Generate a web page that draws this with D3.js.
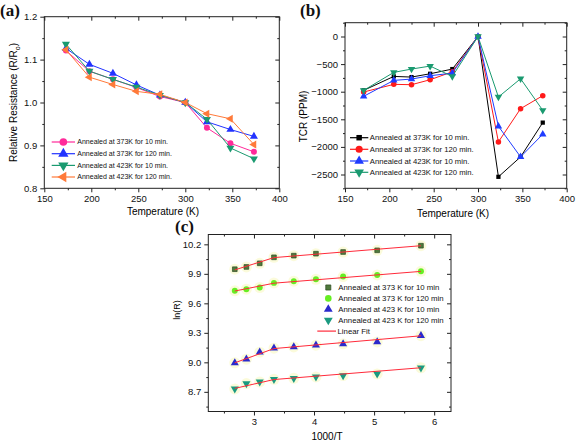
<!DOCTYPE html>
<html><head><meta charset="utf-8">
<script src="https://cdn.jsdelivr.net/npm/d3@7"></script>
<style>
body{margin:0;background:#fff;}
svg{display:block;font-family:"Liberation Sans",Arial,sans-serif;}
</style></head>
<body><svg id="c" width="576" height="442"></svg>
<script>
// ---------- Panel (a) data ----------
const tempA = [173, 198, 223, 248, 273, 300, 323, 348, 373];
const relR_373K_10 = [1.121, 1.073, 1.054, 1.035, 1.014, 1.000, 0.941, 0.905, 0.885];
const relR_373K_120 = [1.126, 1.089, 1.068, 1.041, 1.017, 1.000, 0.955, 0.937, 0.921];
const relR_423K_10 = [1.136, 1.073, 1.054, 1.036, 1.017, 1.000, 0.961, 0.894, 0.869];
const relR_423K_120 = [1.123, 1.059, 1.042, 1.026, 1.019, 1.000, 0.974, 0.962, 0.902];
const ticksA_x = [150, 200, 250, 300, 350, 400];
const ticksA_y = [0.8, 0.9, 1.0, 1.1, 1.2];

// ---------- Panel (b) data ----------
const tempB = [171, 205, 225, 246, 271, 300, 323, 348, 373];
const tcr_373K_10 = [-976, -723, -735, -675, -590, 0, -2542, -2181, -1560];
const tcr_373K_120 = [-1006, -867, -873, -783, -640, 0, -1910, -1307, -1072];
const tcr_423K_10 = [-1084, -795, -771, -711, -663, 0, -1626, -2181, -1771];
const tcr_423K_120 = [-976, -650, -590, -536, -723, 0, -1096, -765, -1337];
const ticksB_x = [150, 200, 250, 300, 350, 400];
const ticksB_y = [0, -500, -1000, -1500, -2000, -2500];

// ---------- Panel (c) data ----------
const invT = [2.681, 2.874, 3.096, 3.333, 3.663, 4.032, 4.484, 5.051, 5.780];
const lnR_373K_10 = [9.947, 9.970, 10.007, 10.068, 10.085, 10.105, 10.122, 10.139, 10.186];
const lnR_373K_120 = [9.727, 9.744, 9.761, 9.808, 9.825, 9.845, 9.872, 9.889, 9.926];
const lnR_423K_10 = [8.995, 9.032, 9.103, 9.144, 9.157, 9.174, 9.188, 9.208, 9.271];
const lnR_423K_120 = [8.730, 8.784, 8.801, 8.828, 8.838, 8.852, 8.866, 8.882, 8.945];
const fitX = [2.681, 3.333, 5.780];
const fit_373K_10 = [9.940, 10.065, 10.186];
const fit_373K_120 = [9.725, 9.805, 9.925];
const fit_423K_10 = [8.995, 9.140, 9.270];
const fit_423K_120 = [8.735, 8.825, 8.945];
const ticksC_x = [3, 4, 5, 6];
const ticksC_y = [8.7, 9.0, 9.3, 9.6, 9.9, 10.2];

const labelsA = ["Annealed at 373K for 10 min.", "Annealed at 373K for 120 min.", "Annealed at 423K for 10 min.", "Annealed at 423K for 120 min."];
const labelsC = ["Annealed at 373 K for 10 min", "Annealed at 373 K for 120 min", "Annealed at 423 K for 10 min", "Annealed at 423 K for 120 min", "Linear Fit"];

const svg = d3.select("#c");
const AX = "#222";

function rangeStep(a, b, s) { const out = []; for (let v = a; v <= b + 1e-9; v += s) out.push(+v.toFixed(4)); return out; }

function frame(x, y, o) {
  const g = svg.append("g");
  const [x0, x1] = x.range(), [y0, y1] = y.range();
  const minorX = rangeStep(o.xMinor[0], o.xMinor[1], o.xMinor[2]);
  const minorY = rangeStep(o.yMinor[0], o.yMinor[1], o.yMinor[2]);
  const fs = o.tickFont;
  g.append("g").attr("transform", `translate(0,${y0})`)
    .call(d3.axisBottom(x).tickValues(o.xTicks).tickSize(4).tickPadding(3).tickFormat(o.xFmt));
  g.append("g").attr("transform", `translate(0,${y0})`).call(d3.axisBottom(x).tickValues(minorX).tickSize(2).tickFormat(""));
  g.append("g").attr("transform", `translate(0,${y1})`).call(d3.axisBottom(x).tickValues(o.xTicks).tickSize(4).tickFormat(""));
  g.append("g").attr("transform", `translate(0,${y1})`).call(d3.axisBottom(x).tickValues(minorX).tickSize(2).tickFormat(""));
  g.append("g").attr("transform", `translate(${x0},0)`)
    .call(d3.axisLeft(y).tickValues(o.yTicks).tickSize(4).tickPadding(3).tickFormat(o.yFmt));
  g.append("g").attr("transform", `translate(${x0},0)`).call(d3.axisLeft(y).tickValues(minorY).tickSize(2).tickFormat(""));
  g.append("g").attr("transform", `translate(${x1},0)`).call(d3.axisLeft(y).tickValues(o.yTicks).tickSize(4).tickFormat(""));
  g.append("g").attr("transform", `translate(${x1},0)`).call(d3.axisLeft(y).tickValues(minorY).tickSize(2).tickFormat(""));
  g.selectAll(".domain").remove();
  g.selectAll(".tick line").attr("stroke", AX);
  g.selectAll(".tick text").attr("font-size", fs).attr("fill", "#111").attr("font-family", "Liberation Sans, Arial, sans-serif");
  g.append("rect").attr("x", x0).attr("y", y1).attr("width", x1 - x0).attr("height", y0 - y1)
    .attr("fill", "none").attr("stroke", AX).attr("stroke-width", 1);
}

function sym(type, size) {
  const map = { circle: d3.symbolCircle, square: d3.symbolSquare, up: d3.symbolTriangle, down: d3.symbolTriangle, left: d3.symbolTriangle };
  return d3.symbol().type(map[type]).size(size)();
}
function rot(type) { return type === "down" ? 180 : type === "left" ? -90 : 0; }

function series(g, x, y, xs, ys, color, type, size, opts = {}) {
  const pts = xs.map((v, i) => [v, ys[i]]);
  if (!opts.noLine) {
    g.append("path").datum(pts).attr("fill", "none").attr("stroke", color).attr("stroke-width", 1)
      .attr("d", d3.line().x(d => x(d[0])).y(d => y(d[1])));
  }
  if (opts.halo) {
    g.selectAll(null).data(pts).join("circle").attr("cx", d => x(d[0])).attr("cy", d => y(d[1]))
      .attr("r", 5.5).attr("fill", "#fafad2").attr("opacity", 0.8);
  }
  if (size > 0) g.selectAll(null).data(pts).join("path")
    .attr("d", sym(type, size))
    .attr("transform", d => `translate(${x(d[0])},${y(d[1])}) rotate(${rot(type)})`)
    .attr("fill", opts.fill || color).attr("stroke", opts.stroke || "none").attr("stroke-width", 0.7);
}

function legendRow(lx0, lx1, ly, tx, color, type, size, label, fs, opts = {}) {
  if (lx1 > lx0) svg.append("line").attr("x1", lx0).attr("x2", lx1).attr("y1", ly).attr("y2", ly).attr("stroke", color).attr("stroke-width", 1.2);
  if (type) svg.append("path").attr("d", sym(type, size))
    .attr("transform", `translate(${opts.mx || (lx0 + lx1) / 2},${ly}) rotate(${rot(type)})`)
    .attr("fill", opts.fill || color).attr("stroke", opts.stroke || "none").attr("stroke-width", 0.7);
  svg.append("text").attr("x", tx).attr("y", ly).attr("dy", "0.35em").attr("font-size", fs).attr("fill", "#111").text(label);
}

function panelLabel(x, y, t) {
  svg.append("text").attr("x", x).attr("y", y).attr("font-family", "Liberation Serif, Times New Roman, serif")
    .attr("font-weight", "bold").attr("font-size", 17).attr("fill", "#111").text(t);
}

// ================= Panel (a) =================
{
  const x = d3.scaleLinear().domain([150, 400]).range([44.3, 279.3]);
  const y = d3.scaleLinear().domain([0.8, 1.2]).range([188.3, 16.7]);
  frame(x, y, { xTicks: ticksA_x, yTicks: ticksA_y, xMinor: [175, 375, 50], yMinor: [0.85, 1.15, 0.1],
    xFmt: d3.format("d"), yFmt: d3.format(".1f"), tickFont: 9.5 });
  const g = svg.append("g");
  const cols = ["#ff2a9a", "#2233ff", "#1a9a70", "#ff7a3a"];
  const types = ["circle", "up", "down", "left"];
  const data = [relR_373K_10, relR_373K_120, relR_423K_10, relR_423K_120];
  data.forEach((d, i) => series(g, x, y, tempA, d, cols[i], types[i], 28));
  const rows = [142, 153.7, 165.4, 177];
  rows.forEach((ry, i) => legendRow(51.7, 75, ry, 77.3, cols[i], types[i], 46, labelsA[i], 7));
  svg.append("text").attr("x", 163).attr("y", 214.5).attr("text-anchor", "middle").attr("font-size", 10).text("Temperature (K)");
  const yl = svg.append("text").attr("transform", "translate(17,102.5) rotate(-90)").attr("text-anchor", "middle").attr("font-size", 10);
  yl.append("tspan").text("Relative Resistance (R/R");
  yl.append("tspan").attr("font-size", 7).attr("dy", 2.5).text("o");
  yl.append("tspan").attr("dy", -2.5).text(")");
  panelLabel(0, 16, "(a)");
}

// ================= Panel (b) =================
{
  const x = d3.scaleLinear().domain([150, 400]).range([345, 566.7]);
  const y = d3.scaleLinear().domain([-2750, 250]).range([188.3, 22.7]);
  frame(x, y, { xTicks: ticksB_x, yTicks: ticksB_y, xMinor: [175, 375, 50], yMinor: [-2750, 250, 500],
    xFmt: d3.format("d"), yFmt: d3.format("d"), tickFont: 9.5 });
  const g = svg.append("g");
  const cols = ["#000000", "#ff1a1a", "#1f3cff", "#1a9a70"];
  const types = ["square", "circle", "up", "down"];
  const data = [tcr_373K_10, tcr_373K_120, tcr_423K_10, tcr_423K_120];
  data.forEach((d, i) => series(g, x, y, tempB, d, cols[i], types[i], i === 0 ? 18 : 24));
  const rows = [137.7, 149.3, 161, 172.3];
  rows.forEach((ry, i) => legendRow(350, 368.3, ry, 369.8, cols[i], types[i], i === 0 ? 30 : 40, labelsA[i], 7.7));
  svg.append("text").attr("x", 453).attr("y", 217).attr("text-anchor", "middle").attr("font-size", 10).text("Temperature (K)");
  svg.append("text").attr("transform", "translate(307,116.5) rotate(-90)").attr("text-anchor", "middle").attr("font-size", 10).text("TCR (PPM)");
  panelLabel(300, 16, "(b)");
}

// ================= Panel (c) =================
{
  const x = d3.scaleLinear().domain([2.24, 6.28]).range([208.3, 451]);
  const y = d3.scaleLinear().domain([8.5, 10.3]).range([411.5, 234.5]);
  frame(x, y, { xTicks: ticksC_x, yTicks: ticksC_y, xMinor: [2.5, 5.5, 1], yMinor: [8.55, 10.05, 0.3],
    xFmt: d3.format("d"), yFmt: d3.format(".1f"), tickFont: 9.5 });
  const g = svg.append("g");
  const fits = [fit_373K_10, fit_373K_120, fit_423K_10, fit_423K_120];
  const data = [lnR_373K_10, lnR_373K_120, lnR_423K_10, lnR_423K_120];
  const fills = ["#4f7a3c", "#66ee22", "#2a2acc", "#1a9a80"];
  const strokes = ["#2e4a22", "none", "none", "none"];
  const types = ["square", "circle", "up", "down"];
  data.forEach((d, i) => series(g, x, y, invT, d, fills[i], types[i], i === 0 ? 22 : 28, { noLine: true, halo: true, stroke: strokes[i] }));
  fits.forEach(f => series(g, x, y, fitX, f, "#ff2a3a", "circle", 0));
  const rows = [287.5, 298.4, 309.3, 320.2, 331.1];
  rows.forEach((ry, i) => {
    if (i < 4) legendRow(0, 0, ry, 338.3, fills[i], types[i], i === 0 ? 26 : 34, labelsC[i], 7.8, { mx: 328.3, stroke: strokes[i] });
    else legendRow(317.3, 336, ry, 337.5, "#ff2a3a", null, 0, labelsC[i], 7.8);
  });
  svg.append("text").attr("x", 327).attr("y", 440).attr("text-anchor", "middle").attr("font-size", 10).text("1000/T");
  svg.append("text").attr("transform", "translate(180,310) rotate(-90)").attr("text-anchor", "middle").attr("font-size", 9).text("ln(R)");
  panelLabel(175, 232, "(c)");
}
</script></body></html>
